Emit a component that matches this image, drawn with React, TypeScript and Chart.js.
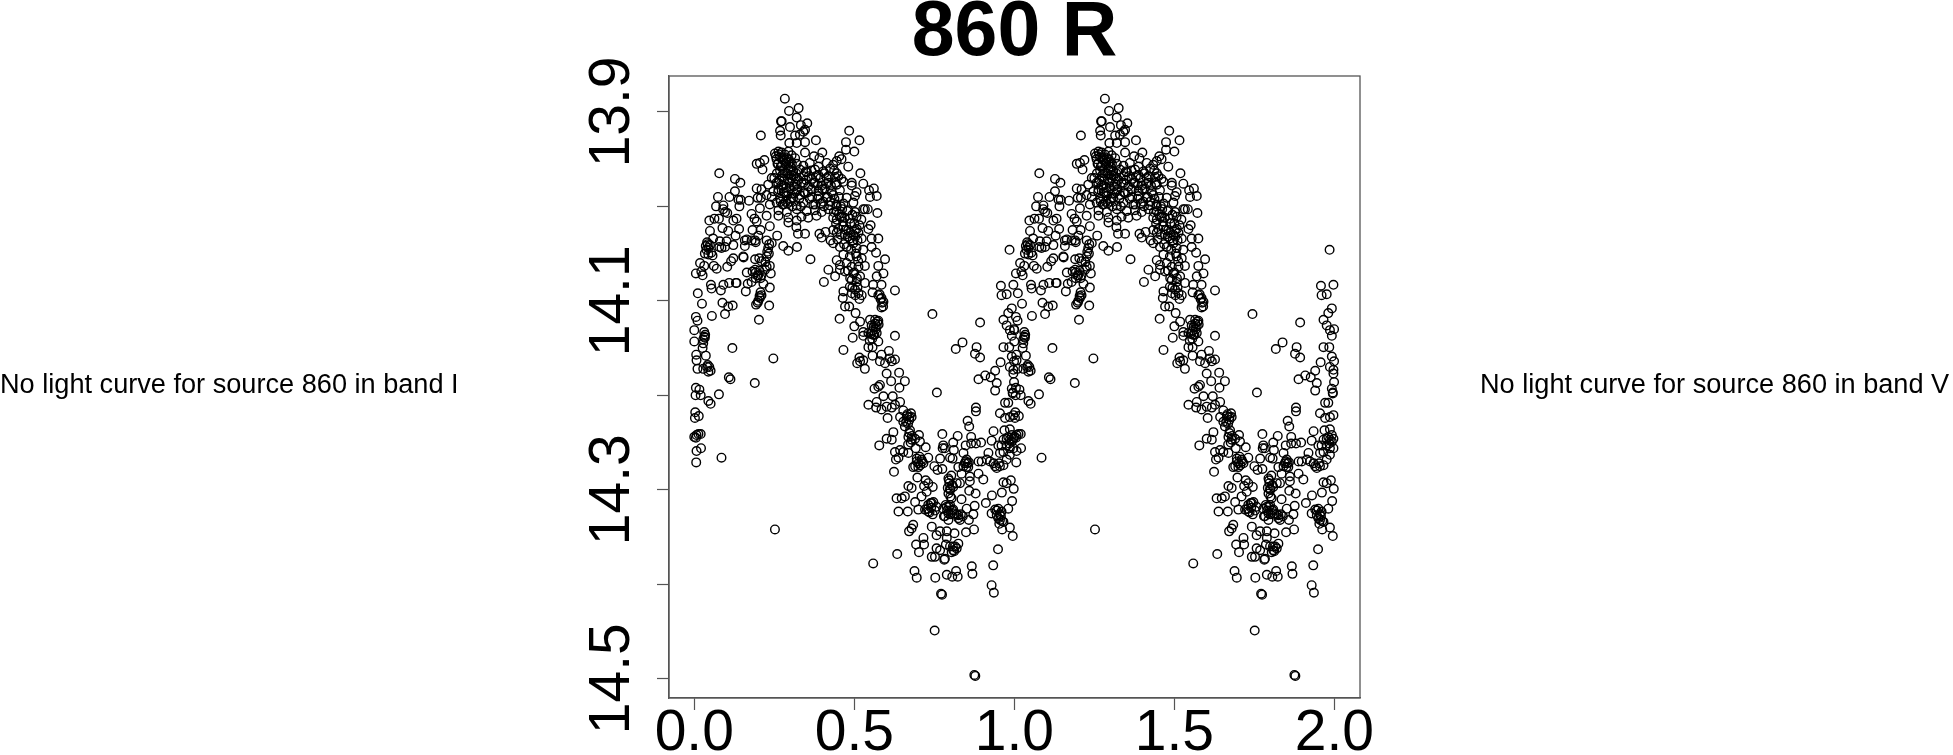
import React, { useEffect, useRef } from "react";
import { Chart, registerables } from "chart.js";

Chart.register(...registerables);

const titleText = "860 R";
const noCurveI = "No light curve for source 860 in band I";
const noCurveV = "No light curve for source 860 in band V";
const xTicks = [0, 0.5, 1, 1.5, 2];
const yTicks = [13.9, 14.0, 14.1, 14.2, 14.3, 14.4, 14.5];
const yLabelled = [13.9, 14.1, 14.3, 14.5];

const risePhase = [0,0,.031,.033,.028,.026,.006,.007,.036,.010,.028,.042,.047,.051,.005,.010,.055,.096,.088,.106,.120,.024,.011,.052,.054,.083,.091,.109,.130,.132,.005,.026,.022,.018,.031,.061,.070,.103,.115,.122,.153,.033,.044,.057,.078,.042,.036,.049,.080,.101,.085,.122,.096,.059,.129,.049,.106,.140,.088,.047,.063,.077,.122,.132,.096,.090,.103,.068,.091,.141,.074,.110,.138,.145,.171,.127,.144,.127,.078];
const riseMag = [14.131,14.143,14.138,14.139,14.145,14.150,14.157,14.163,14.158,14.172,14.172,14.168,14.170,14.174,14.117,14.121,14.116,14.114,14.102,14.106,14.105,14.103,14.092,14.083,14.087,14.089,14.083,14.081,14.081,14.081,14.071,14.073,14.069,14.060,14.063,14.063,14.066,14.064,14.058,14.055,14.053,14.050,14.051,14.052,14.043,14.040,14.042,14.041,14.037,14.037,14.044,14.041,14.043,14.034,14.031,14.026,14.026,14.024,14.023,14.015,14.013,14.013,14.015,14.013,14.006,14.003,14.007,14.000,13.999,14.000,13.990,13.990,13.993,13.993,13.994,13.984,13.975,13.971,13.965];

const lowLeftPhase = [.005,.016,.004,.020,.077,.044,.051,.003,.014,.002,.020,.013,.007,0,.005,.021,.007,.006,.085,.252,.119,.247,.108,.113,.189];
const lowLeftMag = [14.192,14.194,14.200,14.200,14.199,14.206,14.209,14.218,14.222,14.224,14.241,14.241,14.242,14.244,14.245,14.256,14.259,14.271,14.266,14.342,14.150,14.161,14.181,14.183,14.187];

const archPhase = [.208,.195,.205,.219,.213,.242,.231,.195,.210,.198,.226,.208,.205,.179,.188,.226,.195,.182,.207,.236,.200,.158,.164,.179,.190,.158,.192,.226,.242,.231,.233,.226,.203,.190,.210,.154,.236,.226,.221,.190,.182,.164,.239,.210,.200,.192,.236,.179,.167,.216,.161,.210,.205,.200,.193,.234,.202];
const archMag = [13.925,13.955,13.954,13.951,13.961,13.970,13.977,13.981,13.982,13.991,13.988,13.991,14.002,14.008,14.013,14.010,14.016,14.025,14.025,14.021,14.031,14.036,14.035,14.036,14.036,14.042,14.038,14.036,14.039,14.044,14.050,14.053,14.055,14.056,14.058,14.054,14.063,14.064,14.067,14.067,14.069,14.070,14.071,14.073,14.073,14.076,14.086,14.080,14.082,14.082,14.090,14.094,14.097,14.100,14.104,14.105,14.120];

const crestPhase = [.283,.326,.296,.320,.273,.271,.299,.333,.353,.268,.270,.341,.346,.315,.330,.380,.297,.320,.346,.346,.400,.374,.391,.484,.516,.474,.474,.500,.453,.460];
const crestMag = [13.886,13.896,13.899,13.906,13.910,13.910,13.916,13.914,13.912,13.920,13.925,13.921,13.919,13.925,13.924,13.930,13.933,13.933,13.932,13.943,13.943,13.947,13.949,13.920,13.930,13.932,13.940,13.942,13.947,13.950];

const peakPhase = [.252,.263,.273,.283,.294,.304,.315,.257,.268,.278,.289,.299,.262,.274,.287,.301,.320,.341,.361,.388,.414,.434,.445,.268,.278,.294,.309,.330,.351,.377,.403,.424,.445,.250,.273,.292,.304,.320,.341,.367,.388,.414,.440,.460,.257,.278,.299,.320,.341,.356,.377,.398,.419,.445,.466,.492,.247,.263,.283,.299,.320,.346,.367,.388,.408,.429,.455,.242,.268,.289,.309,.330,.361,.388,.414,.434,.476,.502,.236,.257,.278,.299,.320,.341,.372,.403,.424,.466,.497,.263,.289,.320,.351,.377,.398,.419,.445,.481,.502,.528,.263,.294,.335,.356,.382,.434,.455,.294,.320,.319,.324,.346,.391,.398,.410,.434,.426,.259,.278,.294,.321,.363,.419,.405];
const peakMag = [13.944,13.942,13.943,13.945,13.942,13.946,13.949,13.950,13.948,13.951,13.949,13.953,13.955,13.957,13.953,13.958,13.955,13.957,13.954,13.958,13.954,13.956,13.952,13.962,13.965,13.960,13.963,13.961,13.964,13.961,13.963,13.960,13.965,13.970,13.968,13.971,13.967,13.970,13.968,13.971,13.967,13.970,13.969,13.971,13.975,13.978,13.974,13.977,13.975,13.979,13.975,13.978,13.975,13.977,13.974,13.978,13.984,13.982,13.985,13.981,13.984,13.986,13.982,13.984,13.981,13.985,13.983,13.990,13.992,13.989,13.991,13.988,13.992,13.989,13.991,13.988,13.991,13.989,13.998,13.996,13.998,13.995,13.999,13.996,13.998,13.995,13.999,13.997,13.996,14.004,14.006,14.003,14.005,14.004,14.006,14.003,14.005,14.004,14.006,14.003,14.010,14.012,14.011,14.012,14.010,14.012,14.011,14.017,14.015,14.022,14.029,14.029,14.029,14.033,14.027,14.025,14.036,14.031,14.042,14.047,14.043,14.056,14.067,14.080];

const corePhase = [.255,.260,.265,.270,.275,.280,.285,.290,.295,.300,.305,.310,.258,.266,.272,.281,.288,.296,.303,.311,.318,.325,.262,.270,.279,.286,.293,.302,.312,.322,.328,.335,.342,.349,.355,.262,.276,.291,.306,.333,.348,.358,.366,.372,.380,.386,.394,.400,.407,.412,.420,.427,.437,.442,.450,.368,.378,.385,.395,.405,.417,.425,.438,.444,.452,.458];
const coreMag = [13.947,13.955,13.945,13.958,13.950,13.962,13.955,13.965,13.950,13.962,13.955,13.968,13.965,13.972,13.978,13.972,13.980,13.975,13.970,13.979,13.965,13.972,13.985,13.995,13.985,13.995,13.985,13.992,13.986,13.982,13.992,13.975,13.985,13.972,13.985,13.975,13.998,13.997,14.000,14.000,13.963,13.968,13.962,13.975,13.968,13.978,13.970,13.982,13.965,13.976,13.968,13.978,13.962,13.975,13.968,13.990,13.998,13.992,13.997,14.000,13.990,13.995,13.992,13.998,13.990,14.000];

const shoulderPhase = [.436,.445,.452,.462,.470,.478,.487,.494,.500,.508,.443,.450,.458,.465,.473,.479,.488,.495,.503,.510,.516,.522,.447,.468,.490,.505,.512,.480,.487,.494,.503,.510,.516,.500,.508];
const shoulderMag = [14.006,14.000,14.008,14.003,14.012,14.005,14.018,14.009,14.018,14.024,14.018,14.024,14.030,14.016,14.025,14.032,14.028,14.036,14.032,14.036,14.020,14.014,14.035,14.040,14.046,14.050,14.058,14.068,14.076,14.086,14.094,14.086,14.098,14.070,14.076];

const fallPhase = [.519,.481,.492,.528,.546,.561,.570,.549,.507,.533,.542,.572,.460,.445,.486,.507,.551,.544,.466,.481,.502,.513,.445,.471,.486,.497,.523,.554,.575,.434,.455,.476,.497,.507,.528,.554,.568,.445,.466,.486,.507,.523,.596,.455,.476,.492,.513,.533,.575,.591,.440,.471,.497,.518,.570,.455,.492,.507,.533,.585,.559,.466,.486,.502,.513,.523,.557,.627,.464,.492,.575,.585,.591,.471,.484,.585,.504,.454,.518,.500,.549,.575,.565,.554,.570,.528,.544,.559,.570,.495,.627,.528,.575,.466,.544,.557,.608,.516,.585,.557,.611,.627,.518,.528,.509,.580,.596,.617,.533,.601,.640,.658,.615];
const fallMag = [13.965,13.958,13.975,13.976,13.983,13.981,13.989,13.990,13.985,14.003,14.003,14.007,14.011,14.014,14.013,14.011,14.020,14.024,14.021,14.025,14.025,14.028,14.028,14.030,14.034,14.030,14.034,14.034,14.034,14.039,14.043,14.043,14.039,14.044,14.046,14.043,14.049,14.057,14.051,14.053,14.053,14.055,14.056,14.062,14.060,14.064,14.064,14.063,14.063,14.071,14.074,14.069,14.071,14.074,14.074,14.067,14.078,14.080,14.081,14.083,14.083,14.090,14.085,14.088,14.092,14.094,14.091,14.089,14.097,14.092,14.094,14.097,14.101,14.106,14.106,14.107,14.113,14.119,14.122,14.127,14.120,14.121,14.124,14.126,14.127,14.133,14.134,14.136,14.134,14.139,14.137,14.137,14.143,14.152,14.149,14.149,14.153,14.160,14.157,14.158,14.161,14.162,14.164,14.163,14.166,14.164,14.166,14.164,14.172,14.177,14.176,14.185,14.185];

const returnPhase = [.744,.893,.838,.817,.882,.877,.893,.957,.940,.909,.888,.926,.945,.940,.958,.997,.960,.976,.985,.992,.981,.966,.976,.986,.999,.992,.984,.966,.992,.999,.997,.986,.997,.999,.995,.758];
const returnMag = [14.114,14.123,14.144,14.151,14.149,14.156,14.160,14.165,14.174,14.179,14.183,14.181,14.187,14.195,14.084,14.083,14.094,14.093,14.046,14.108,14.113,14.120,14.126,14.131,14.130,14.137,14.149,14.149,14.159,14.164,14.173,14.170,14.177,14.186,14.197,14.197];

const descentPhase = [.563,.580,.575,.641,.591,.620,.643,.544,.570,.568,.585,.601,.617,.627,.604,.653,.664,.672,.679,.643,.653,.658,.674,.622,.601,.617,.578,.702,.669,.679,.690,.705,.627,.643,.653,.669,.692,.723,.638,.630,.695,.710,.731,.684,.700,.716,.624,.768,.750,.760,.775,.697,.723,.731,.745,.718,.669,.679,.726,.632,.648,.658,.710,.690,.731,.747,.638,.667,.700,.721,.731,.757,.742,.684,.679,.671,.742,.716,.693,.718,.702,.757,.768,.789,.813,.789,.757,.768,.786,.809,.820,.825,.799,.742,.752,.783,.781,.634,.559,.688,.695,.753,.789,.818,.806,.823,.771,.774,.751,.867,.869,.934,.949,.929,.936,.875,.878];
const descentMag = [14.193,14.189,14.191,14.192,14.201,14.201,14.207,14.210,14.207,14.213,14.215,14.212,14.213,14.210,14.224,14.216,14.222,14.223,14.223,14.223,14.228,14.233,14.237,14.239,14.246,14.247,14.253,14.242,14.244,14.247,14.246,14.249,14.260,14.258,14.260,14.261,14.256,14.255,14.266,14.268,14.267,14.268,14.266,14.276,14.276,14.272,14.281,14.267,14.275,14.279,14.278,14.287,14.290,14.293,14.297,14.296,14.296,14.298,14.302,14.309,14.309,14.307,14.307,14.313,14.316,14.313,14.323,14.323,14.321,14.321,14.323,14.318,14.314,14.337,14.341,14.344,14.339,14.351,14.358,14.358,14.366,14.348,14.344,14.344,14.346,14.351,14.362,14.364,14.358,14.364,14.362,14.357,14.360,14.371,14.371,14.373,14.374,14.368,14.378,14.386,14.393,14.393,14.390,14.386,14.392,14.392,14.410,14.411,14.449,14.381,14.389,14.380,14.363,14.401,14.409,14.496,14.497];

const floorPhase = [.880,.880,.854,.859,.775,.823,.865,.935,.778,.809,.776,.783,.848,.865,.880,.896,.929,.811,.799,.807,.841,.919,.825,.851,.854,.841,.856,.888,.898,.914,.924,.940,.955,.966,.888,.903,.835,.861,.830,.861,.794,.797,.809,.799,.820,.794,.859,.879,.804,.835,.799,.789,.809,.778,.794,.783,.825,.839,.851,.876,.872,.858,.874,.849,.911,.930,.940,.950,.929,.945,.960,.955,.966,.962,.986,.995,.981,.993,.998,.961,.966,.976,.989,.955,.971,.986,.997,.971,.981,.992,.995,.969,.986,.992,.966,.986,.997,.960,.976,.966,.986,.997,.950,.976,.986,.955,.981,.992,.976,.984];
const floorMag = [14.213,14.217,14.227,14.233,14.241,14.243,14.244,14.238,14.253,14.250,14.256,14.256,14.253,14.251,14.251,14.250,14.248,14.258,14.266,14.267,14.261,14.261,14.276,14.268,14.272,14.275,14.276,14.270,14.270,14.268,14.270,14.275,14.275,14.274,14.283,14.289,14.283,14.286,14.293,14.291,14.288,14.293,14.297,14.299,14.293,14.304,14.301,14.304,14.309,14.310,14.316,14.318,14.321,14.320,14.325,14.328,14.327,14.328,14.320,14.317,14.326,14.332,14.342,14.345,14.314,14.306,14.321,14.320,14.325,14.327,14.323,14.332,14.334,14.342,14.340,14.349,14.320,14.312,14.299,14.303,14.292,14.293,14.290,14.219,14.224,14.223,14.221,14.208,14.208,14.193,14.198,14.237,14.236,14.242,14.247,14.247,14.246,14.253,14.253,14.260,14.256,14.256,14.253,14.268,14.263,14.261,14.244,14.249,14.246,14.251];

const clumpPhase = [.040,.044,.038,.053,.228,.234,.222,.192,.197,.203,.207,.204,.198,.207,.582,.587,.579,.590,.565,.572,.560,.567,.576,.556,.551,.556,.563,.548,.031,.034,.028,.040,.044,.666,.672,.668,.677,.662,.672,.676,.668,.680,.695,.700,.704,.706,.690,.712,.796,.800,.806,.792,.803,.800,.790,.796,.800,.786,.780,.806,.794,.730,.735,.740,.745,.738,.752,.825,.833,.830,.820,.812,.845,.850,.848,.858,.935,.945,.952,.945,.950,.955,.953,.958,.962,.804,.812,.815,.808];
const clumpMag = [14.038,14.044,14.046,14.049,14.048,14.040,14.059,14.070,14.073,14.068,14.076,14.095,14.102,14.091,14.098,14.102,14.093,14.106,14.120,14.122,14.128,14.130,14.125,14.132,14.135,14.140,14.136,14.142,14.133,14.136,14.141,14.170,14.175,14.220,14.226,14.230,14.219,14.228,14.240,14.250,14.252,14.243,14.270,14.272,14.265,14.274,14.275,14.270,14.290,14.300,14.295,14.298,14.285,14.307,14.322,14.318,14.326,14.316,14.328,14.322,14.332,14.320,14.324,14.319,14.326,14.314,14.322,14.330,14.326,14.332,14.326,14.325,14.272,14.276,14.270,14.271,14.272,14.277,14.272,14.322,14.330,14.326,14.336,14.328,14.333,14.366,14.365,14.360,14.360];

const foldedPhase = [...risePhase, ...lowLeftPhase, ...archPhase, ...crestPhase, ...peakPhase, ...corePhase, ...shoulderPhase, ...fallPhase, ...returnPhase, ...descentPhase, ...floorPhase, ...clumpPhase];
const foldedMag = [...riseMag, ...lowLeftMag, ...archMag, ...crestMag, ...peakMag, ...coreMag, ...shoulderMag, ...fallMag, ...returnMag, ...descentMag, ...floorMag, ...clumpMag];

const FONT = '"Liberation Sans", Arial, Helvetica, sans-serif';
const INK = "#000000";
const FRAME = "#555555";

export default function App() {
  const ref = useRef<HTMLCanvasElement | null>(null);
  useEffect(() => {
    const canvas = ref.current;
    if (!canvas) return;
    const points = [
      ...foldedPhase.map((p, i) => ({ x: p, y: foldedMag[i] })),
      ...foldedPhase.map((p, i) => ({ x: p + 1, y: foldedMag[i] })),
    ];
    const frame = {
      id: "frame",
      afterDraw(c: any) {
        const { left, top, width, height } = c.chartArea;
        c.ctx.save();
        c.ctx.strokeStyle = FRAME;
        c.ctx.lineWidth = 1.3;
        c.ctx.strokeRect(left, top, width, height);
        c.ctx.restore();
      },
    };
    const chart = new Chart(canvas, {
      type: "scatter",
      data: {
        datasets: [
          {
            data: points,
            pointStyle: "circle",
            pointRadius: 4.3,
            pointBorderWidth: 1.4,
            pointBorderColor: INK,
            pointBackgroundColor: "rgba(0,0,0,0)",
            showLine: false,
          },
        ],
      },
      plugins: [frame],
      options: {
        animation: false,
        responsive: false,
        devicePixelRatio: 1,
        layout: { padding: { left: 569, right: 593, top: 0, bottom: 0 } },
        plugins: {
          legend: { display: false },
          tooltip: { enabled: false },
          title: {
            display: true,
            text: titleText,
            fullSize: false,
            color: INK,
            font: { family: FONT, size: 77, weight: "bold", lineHeight: 68 / 77 },
            padding: { top: 0, bottom: 8 },
          },
        },
        scales: {
          x: {
            type: "linear",
            min: -0.079,
            max: 2.08,
            afterFit: (s: any) => { s.height = 57; },
            afterBuildTicks: (s: any) => { s.ticks = xTicks.map((value) => ({ value })); },
            border: { color: FRAME, width: 1.3 },
            grid: { drawOnChartArea: false, drawTicks: true, tickLength: 12, tickColor: FRAME, tickWidth: 1.2 },
            ticks: {
              color: INK,
              font: { family: FONT, size: 57 },
              padding: -10,
              maxRotation: 0,
              minRotation: 0,
              autoSkip: false,
              callback: (v: any) => Number(v).toFixed(1),
            },
          },
          y: {
            type: "linear",
            reverse: true,
            min: 13.862,
            max: 14.5204,
            afterFit: (s: any) => { s.width = 100; },
            afterBuildTicks: (s: any) => { s.ticks = yTicks.map((value) => ({ value })); },
            border: { color: FRAME, width: 1.3 },
            grid: { drawOnChartArea: false, drawTicks: true, tickLength: 12, tickColor: FRAME, tickWidth: 1.2 },
            ticks: {
              color: INK,
              font: { family: FONT, size: 57 },
              padding: -12,
              minRotation: 90,
              maxRotation: 90,
              crossAlign: "center",
              autoSkip: false,
              callback: (v: any) => (yLabelled.some((t) => Math.abs(t - v) < 1e-6) ? Number(v).toFixed(1) : ""),
            },
          },
        },
      },
    } as any);
    return () => chart.destroy();
  }, []);

  const note: React.CSSProperties = {
    position: "absolute",
    top: 368,
    fontFamily: FONT,
    fontSize: 27.15,
    lineHeight: "32px",
    color: "#000",
    whiteSpace: "nowrap",
  };
  return (
    <div style={{ position: "absolute", left: 0, top: 0, width: 1953, height: 755, overflow: "hidden", background: "#fff" }}>
      <canvas ref={ref} width={1953} height={755} style={{ position: "absolute", left: 0, top: 0, width: 1953, height: 755 }} />
      <div style={{ ...note, left: 0 }}>{noCurveI}</div>
      <div style={{ ...note, left: 1480 }}>{noCurveV}</div>
    </div>
  );
}
